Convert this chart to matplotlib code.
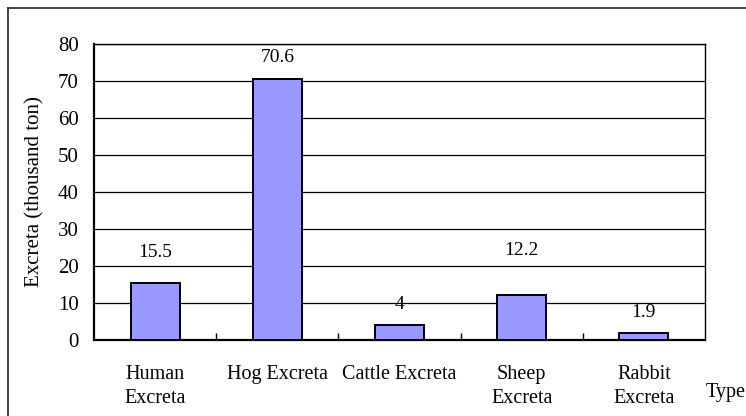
import matplotlib.pyplot as plt
from matplotlib.lines import Line2D
import numpy as np

plt.rcParams['font.family'] = ['Liberation Serif', 'DejaVu Serif']

categories = ['Human\nExcreta', 'Hog Excreta', 'Cattle Excreta', 'Sheep\nExcreta', 'Rabbit\nExcreta']
excreta = [15.5, 70.6, 4, 12.2, 1.9]
value_text = ['15.5', '70.6', '4', '12.2', '1.9']
# how far each value label sits above its bar (points)
label_lift = [21.5, 15.5, 15, 32, 14.5]

W, H = 746, 416
fs = 14.5
fig = plt.figure(figsize=(W / 100, H / 100), dpi=100)

# outer chart frame (runs off the right and bottom of the image)
fig.add_artist(Line2D([8 / W, 8 / W], [0, 1 - 8 / H], color='#222222', lw=1.2))
fig.add_artist(Line2D([8 / W, 1], [1 - 8 / H, 1 - 8 / H], color='#222222', lw=1.2))

ax = fig.add_axes([94 / W, (H - 340) / H, 611 / W, 296 / H])
x = np.arange(len(categories))
ax.set_axisbelow(True)
ax.grid(axis='y', color='black', linewidth=0.9)
ax.bar(x, excreta, width=0.4, color='#9999FF', edgecolor='black', linewidth=1.4, zorder=3)

for xi, v, t, lift in zip(x, excreta, value_text, label_lift):
    ax.annotate(t, (xi, v), xytext=(0, lift), textcoords='offset points',
                ha='center', va='center', fontsize=14)

ax.set_xlim(-0.5, len(categories) - 0.5)
ax.set_ylim(0, 80)
ax.set_yticks(np.arange(0, 81, 10))
ax.tick_params(axis='y', length=0, pad=11, labelsize=15)
ax.set_xticks(x)
ax.set_xticklabels(categories, fontsize=fs, linespacing=1.38)
ax.tick_params(axis='x', which='major', length=0, pad=18)
ax.set_xticks(np.arange(0.5, len(categories) - 0.5, 1), minor=True)
ax.tick_params(axis='x', which='minor', direction='in', length=5, width=1, color='black')

for side in ['left', 'bottom']:
    ax.spines[side].set_linewidth(1.6)
for side in ['top', 'right']:
    ax.spines[side].set_linewidth(1.0)

fig.text(35 / W, 1 - 192 / H, 'Excreta (thousand ton)', rotation=90,
         ha='center', va='center', fontsize=15)
fig.text(706 / W, 1 - 392 / H, 'Type', ha='left', va='center', fontsize=14.5)

fig.savefig('out.png', dpi=100)
